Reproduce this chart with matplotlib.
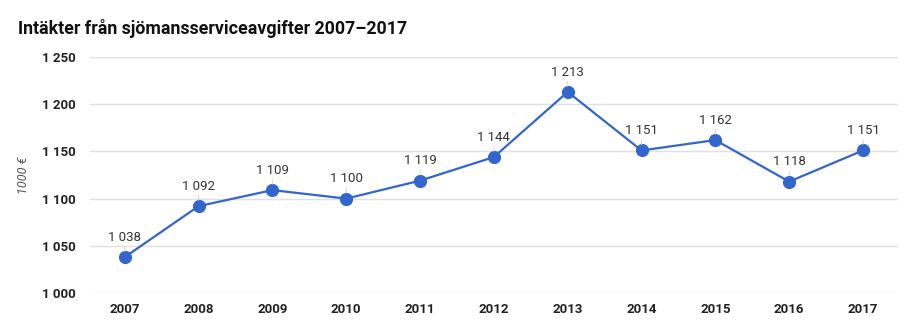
import matplotlib
matplotlib.use('Agg')
import matplotlib.pyplot as plt
import matplotlib.ticker as mt

plt.rcParams['font.family'] = ['Roboto', 'DejaVu Sans']

# Data
years = ['2007', '2008', '2009', '2010', '2011', '2012', '2013', '2014', '2015', '2016', '2017']
income = [1038, 1092, 1109, 1100, 1119, 1144, 1213, 1151, 1162, 1118, 1151]
yticks = [1000, 1050, 1100, 1150, 1200, 1250]

def fmt(v):
    return '{:,}'.format(int(v)).replace(',', ' ')

fig = plt.figure(figsize=(9.16, 3.32), dpi=100)
ax = fig.add_axes([0.0983, 0.1175, 0.8817, 0.7108])

x = list(range(len(years)))
ax.plot(x, income, color='#3366cc', linewidth=1.6, marker='o', markersize=8.5, zorder=3)

for xi, v in zip(x, income):
    ax.annotate(fmt(v), (xi, v), xytext=(0, 9.5), textcoords='offset points',
                ha='center', va='bottom', fontsize=9.5, color='#333333',
                arrowprops=dict(arrowstyle='-', color='#cccccc', lw=0.6, shrinkA=0, shrinkB=4))

ax.set_xlim(-0.47, len(years) - 0.53)
ax.set_ylim(1000, 1250)
ax.set_yticks(yticks)
ax.yaxis.set_major_formatter(mt.FuncFormatter(lambda v, p: fmt(v)))
ax.set_xticks(x)
ax.set_xticklabels(years)

for lab in ax.get_xticklabels() + ax.get_yticklabels():
    lab.set_fontweight('bold')
    lab.set_fontsize(9.5)
    lab.set_color('#222222')

ax.tick_params(length=0)
ax.tick_params(axis='y', pad=10)
ax.tick_params(axis='x', pad=7)
ax.grid(axis='y', color='#e0e0e0', linewidth=1)
ax.set_axisbelow(True)
for s in ax.spines.values():
    s.set_visible(False)

ax.set_ylabel('1000 €', fontsize=9, style='italic', color='#555555', labelpad=9)

fig.text(0.02, 0.915, 'Intäkter från sjömansserviceavgifter 2007–2017',
         fontsize=12.8, fontweight='bold', color='#111111', va='center')

fig.savefig('out.png', dpi=100)
